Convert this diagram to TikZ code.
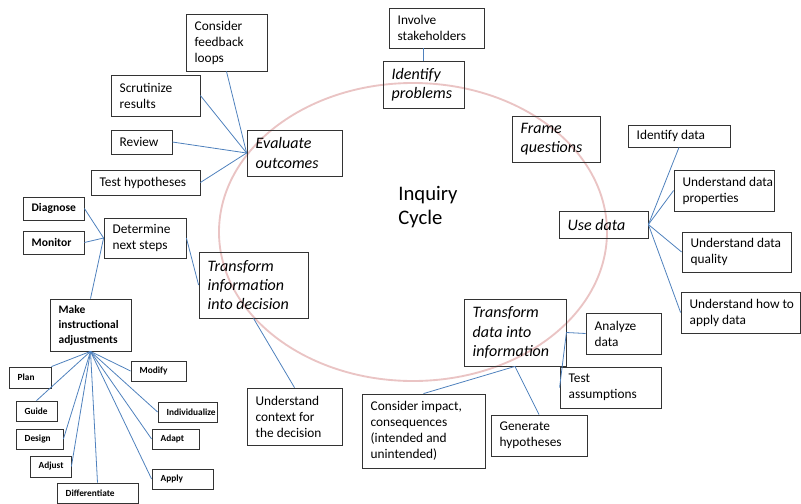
\documentclass[tikz,border=0pt]{standalone}
\usepackage{fontspec}
\setmainfont{Carlito}
\definecolor{linkblue}{RGB}{79,129,189}
\definecolor{cyclepink}{RGB}{234,196,196}

\begin{document}
\begin{tikzpicture}[x=0.75pt, y=-0.75pt,
  every node/.style={rectangle, draw=black!80, line width=0.6pt, inner xsep=3pt, inner ysep=1pt, align=left},
  bx/.style 2 args={text width=#1*0.75pt-6pt, minimum height=#2*0.75pt, execute at begin node={\leftskip=3.5pt\spaceskip=\fontdimen2\font\relax}},
  txt/.style={font=\fontsize{10}{12}\selectfont},
  stage/.style={font=\fontsize{12}{14.4}\selectfont\itshape},
  hint/.style={font=\fontsize{8.7}{11}\selectfont\bfseries},
  tag/.style={font=\fontsize{7}{8}\selectfont\bfseries},
  link/.style={draw=linkblue, line width=0.6pt}]
  \useasboundingbox (0,0) rectangle (801,504);

  \draw[cyclepink, line width=1.4pt] (413,232) ellipse [x radius=145.5pt, y radius=111.75pt];
  \node[draw=none, inner sep=0pt, anchor=west, font=\fontsize{15.5}{18}\selectfont] (title) at (398,207) {Inquiry\\Cycle};

  \node[txt, bx={81}{57}]    (feedback) at (226.5,42.5) {Consider\\feedback\\loops};
  \node[txt, bx={89}{41}]    (scrut)    at (155.5,95.5) {Scrutinize\\results};
  \node[txt, bx={61}{24}]    (review)   at (141.5,142)  {Review};
  \node[txt, bx={109}{25}]   (testhyp)  at (145.5,182.5) {Test~hypotheses};
  \node[stage, bx={95}{46}]  (evaluate) at (294.5,153)  {Evaluate\\outcomes};
  \node[hint, bx={61}{23}]   (diagnose) at (53.5,208.5) {Diagnose};
  \node[hint, bx={61}{23}]   (monitor)  at (53.5,242.5) {Monitor};
  \node[txt, bx={82}{40}]    (nextsteps) at (145,238)   {Determine\\next~steps};
  \node[stage, bx={109}{66}] (tinfo)    at (253.5,285)  {Transform\\information\\into~decision};
  \node[txt, bx={95}{57}]    (context)  at (294.5,416.5) {Understand\\context~for\\the~decision};
  \node[hint, bx={81}{52}, font=\fontsize{8.6}{11.25}\selectfont\bfseries] (make) at (90.5,325) {Make\\instructional\\adjustments};
  \node[tag, bx={42}{21}]    (plan)     at (30,377.5)   {Plan};
  \node[tag, bx={41}{20}]    (guide)    at (36.5,411)   {Guide};
  \node[tag, bx={47}{20}]    (design)   at (39.5,439)   {Design};
  \node[tag, bx={41}{21}]    (adjust)   at (50.5,466.5) {Adjust};
  \node[tag, bx={81}{20}]    (differ)   at (97.5,493)   {Differentiate};
  \node[tag, bx={55}{20}]    (modify)   at (158.5,371)  {Modify};
  \node[tag, bx={59}{20}]    (individ)  at (187.5,412)  {Individualize};
  \node[tag, bx={47}{20}]    (adapt)    at (175.5,439)  {Adapt};
  \node[tag, bx={61}{20}]    (apply)    at (182.5,479)  {Apply};
  \node[stage, bx={81}{47}]  (problems) at (423.5,84.5) {Identify\\problems};
  \node[txt, bx={95}{40}]    (stake)    at (436.5,28)   {Involve\\stakeholders};
  \node[stage, bx={88}{46}]  (frame)    at (556,139)    {Frame\\questions};
  \node[txt, bx={102}{22}]   (iddata)   at (679,136)    {Identify~data};
  \node[txt, bx={100}{41}]   (props)    at (724,190.5)  {Understand~data\\properties};
  \node[stage, bx={89}{27}]  (usedata)  at (603.5,224.5) {Use~data};
  \node[txt, bx={109}{40}]   (quality)  at (736.5,252)  {Understand~data\\quality};
  \node[txt, bx={119}{41}]   (howto)    at (740.5,312.5) {Understand~how~to\\apply~data};
  \node[stage, bx={102}{67}] (tdata)    at (515,332.5)  {Transform\\data~into\\information};
  \node[txt, bx={75}{41}]    (analyze)  at (623.5,333.5) {Analyze\\data};
  \node[txt, bx={101}{41}]   (testa)    at (610.5,387.5) {Test\\assumptions};
  \node[txt, bx={96}{41}]    (genhyp)   at (539,435.5)  {Generate\\hypotheses};
  \node[txt, bx={123}{74}]   (impact)   at (423.5,431)  {Consider~impact,\\consequences\\(intended~and\\unintended)};

  \draw[link] (feedback.south) -- (evaluate.west);
  \draw[link] (scrut.east) -- (evaluate.west);
  \draw[link] (review.east) -- (evaluate.west);
  \draw[link] (testhyp.east) -- (evaluate.west);
  \draw[link] (diagnose.east) -- (nextsteps.west);
  \draw[link] (monitor.east) -- (nextsteps.west);
  \draw[link] (nextsteps.west) -- (make.north);
  \draw[link] (nextsteps.east) -- (tinfo.west);
  \draw[link] (tinfo.south) -- (context.north);
  \draw[link] (make.south) -- (plan.north east);
  \draw[link] (make.south) -- (guide.north);
  \draw[link] (make.south) -- (design.east);
  \draw[link] (make.south) -- (adjust.east);
  \draw[link] (make.south) -- (differ.north);
  \draw[link] (make.south) -- (apply.west);
  \draw[link] (make.south) -- (adapt.west);
  \draw[link] (make.south) -- (individ.west);
  \draw[link] (make.south) -- (modify.west);
  \draw[link] (problems.north) -- (problems.north |- stake.south);
  \draw[link] (usedata.east) -- (iddata.south);
  \draw[link] (usedata.east) -- (props.west);
  \draw[link] (usedata.east) -- (quality.west);
  \draw[link] (usedata.east) -- (howto.west);
  \draw[link] (tdata.east) -- (analyze.west);
  \draw[link] (tdata.east) -- (testa.west);
  \draw[link] (tdata.south) -- (impact.north);
  \draw[link] (tdata.south) -- (genhyp.north);
\end{tikzpicture}
\end{document}
